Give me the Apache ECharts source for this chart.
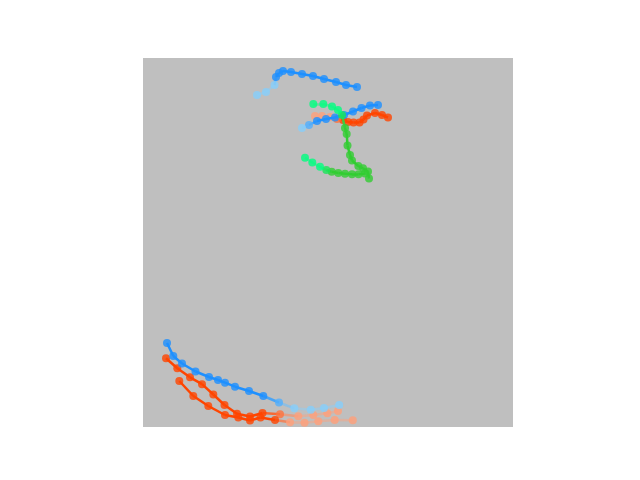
<!DOCTYPE html>
<html>
<head>
<meta charset="utf-8">
<script src="https://cdn.jsdelivr.net/npm/echarts@6/dist/echarts.min.js"></script>
<style>
  html, body { margin: 0; padding: 0; background: #fff; }
  #chart { width: 640px; height: 480px; }
</style>
</head>
<body>
<div id="chart"></div>
<script>
// each curve listed from its dark end to its light end, [x, y]
const blueTopA = [[214,340],[203,342],[193,345],[181,348],[170,351],[159,353],[148,355],[140,356],[136,354],[133,350],[131.5,342],[123,335],[114,332]]
const blueTopB = [[235,322],[227,321.5],[218.5,319],[210,315.5],[201,312],[192,309.5],[183,308],[174,306],[166,302],[159,299]]
const redTop = [[245,309.5],[239,312],[232,314],[224,311.5],[220.5,307.5],[216.5,304.5],[210.5,304.5],[205,305],[200,307],[194,308],[187,310],[179,311],[172,311]]
const greenA = [[226,248.5],[225,255.5],[220,258.7],[215.3,261],[209,266.5],[207,272],[204.5,281.5],[203.7,293],[202,299],[199,312],[195,317],[189,320.5],[180.3,323],[170.3,323]]
const greenB = [[222,253.5],[215.5,252.7],[209,252.7],[202,253.3],[195.3,254],[188.7,255.3],[183.3,257],[177,260.2],[169.3,264.5],[162,269.3]]
const blueLow = [[24,84],[30.3,71],[39,63.5],[52.5,55.5],[66,50],[75,47],[82,44.3],[92,40.3],[106,36],[120.3,31],[136,24.5],[151.3,18.7],[167.8,17.2],[181,19],[196.2,22]]
const redLowA = [[23,68.7],[34.3,58.7],[47,49.7],[59,42.8],[70.3,32.5],[81.5,22],[94,13.3],[107,10.5],[119.5,14],[137,12.7],[155.3,10.7],[170.3,12],[184.3,13.7],[195,16]]
const redLowB = [[36.3,46],[50.3,31],[65.3,21],[82,12],[95.3,9.5],[107,6.5],[117.5,9.5],[132,7],[147,4.7],[161.5,4.3],[175.3,5.7],[191.7,7],[209.8,6.7]]

const ramps = {
  blue: ['#1e90ff', '#87cefa'],
  red: ['#ff4500', '#ffa07a'],
  green: ['#32cd32', '#00ff7f']
}

// draw order: reds, then blues, then greens on top
// split = index where the colour turns light
const curves = [
  { pts: redTop, ramp: 'red', split: 9 },
  { pts: redLowA, ramp: 'red', split: 9 },
  { pts: redLowB, ramp: 'red', split: 7.5 },
  { pts: blueTopA, ramp: 'blue', split: 9.5 },
  { pts: blueTopB, ramp: 'blue', split: 8 },
  { pts: blueLow, ramp: 'blue', split: 10 },
  { pts: greenA, ramp: 'green', split: 9 },
  { pts: greenB, ramp: 'green', split: 6 }
]

function hex(c) { return [1, 3, 5].map(i => parseInt(c.slice(i, i + 2), 16)) }
function mix(a, b, t) {
  const A = hex(a), B = hex(b)
  return 'rgb(' + A.map((v, i) => Math.round(v + (B[i] - v) * t)).join(',') + ')'
}
function fade(i, split) { return Math.max(0, Math.min(1, i - split + 0.5)) }

const series = []
curves.forEach((c, k) => {
  const [dark, light] = ramps[c.ramp]
  const segs = []
  for (let i = 0; i < c.pts.length - 1; i++) {
    const t = (fade(i, c.split) + fade(i + 1, c.split)) / 2
    segs.push({
      coords: [c.pts[i], c.pts[i + 1]],
      lineStyle: { color: mix(dark, light, t), opacity: 1 - 0.55 * t }
    })
  }
  series.push({
    type: 'lines',
    coordinateSystem: 'cartesian2d',
    data: segs,
    lineStyle: { width: 2.5, curveness: 0 },
    silent: true,
    z: 2 + k * 2
  })
  series.push({
    type: 'scatter',
    data: c.pts.map((p, i) => ({ value: p, itemStyle: { color: mix(dark, light, fade(i, c.split)) } })),
    symbol: 'circle',
    symbolSize: 8,
    silent: true,
    z: 3 + k * 2
  })
})

const chart = echarts.init(document.getElementById('chart'), null, { renderer: 'canvas' })
chart.setOption({
  animation: false,
  backgroundColor: '#ffffff',
  grid: { left: 143, top: 58, width: 370, height: 369, show: true, backgroundColor: '#bfbfbf', borderWidth: 0 },
  xAxis: { type: 'value', min: 0, max: 370, show: false },
  yAxis: { type: 'value', min: 0, max: 369, show: false },
  series: series
})
</script>
</body>
</html>
